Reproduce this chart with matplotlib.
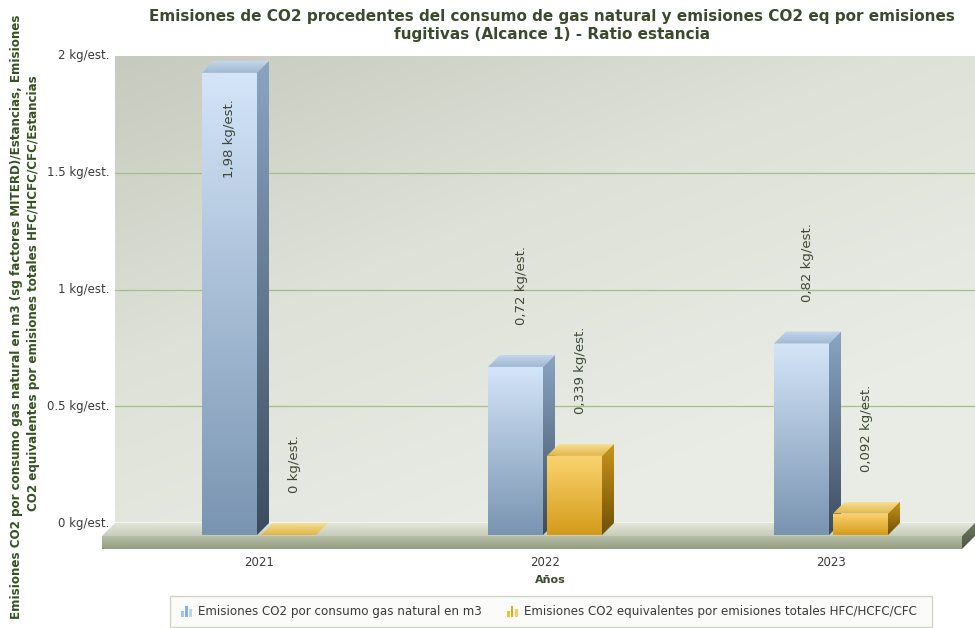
import matplotlib
matplotlib.use("Agg")
import matplotlib.pyplot as plt
from matplotlib.patches import Polygon, Rectangle
from matplotlib.colors import LinearSegmentedColormap
import numpy as np

years = ["2021", "2022", "2023"]
gas_natural = [1.98, 0.72, 0.82]
fugitivas = [0.0, 0.339, 0.092]
gas_labels = ["1,98 kg/est.", "0,72 kg/est.", "0,82 kg/est."]
fug_labels = ["0 kg/est.", "0,339 kg/est.", "0,092 kg/est."]
y_ticks = [0, 0.5, 1, 1.5, 2]
y_tick_labels = ["0 kg/est.", "0.5 kg/est.", "1 kg/est.", "1.5 kg/est.", "2 kg/est."]
series_names = ["Emisiones CO2 por consumo gas natural en m3",
                "Emisiones CO2 equivalentes por emisiones totales HFC/HCFC/CFC"]
title = ("Emisiones de CO2 procedentes del consumo de gas natural y emisiones CO2 eq por emisiones\n"
         "fugitivas (Alcance 1) - Ratio estancia")
ylabel_1 = "Emisiones CO2 por consumo gas natural en m3 (sg factores MITERD)/Estancias, Emisiones"
ylabel_2 = "CO2 equivalentes por emisiones totales HFC/HCFC/CFC/Estancias"

W, H = 975, 628
fig = plt.figure(figsize=(W / 100, H / 100), dpi=100)
fig.patch.set_facecolor("white")


def fx(x):
    return x / W


def fy(y):
    return 1 - y / H


# back wall of the plot, in pixels
L, R, T, B = 115, 975, 56, 523
ax = fig.add_axes([fx(L), fy(B), (R - L) / W, (B - T) / H])
ax.set_axis_off()
PX = 286.0              # pixels per category
PY = (B - T) / 2.0      # pixels per kg/est.
XMIN, XMAX = (L - 271) / PX, (R - 271) / PX


def px(n):
    return n / PX


def py(n):
    return n / PY


def grad_fill(verts, top, bottom, z):
    poly = Polygon(verts, closed=True, facecolor="none", edgecolor="none",
                   zorder=z, clip_on=False)
    ax.add_patch(poly)
    xs = [v[0] for v in verts]
    ys = [v[1] for v in verts]
    cmap = LinearSegmentedColormap.from_list("g", [bottom, top])
    grad = np.linspace(0, 1, 256).reshape(-1, 1)
    im = ax.imshow(grad, cmap=cmap, origin="lower", aspect="auto",
                   extent=(min(xs), max(xs), min(ys), max(ys)),
                   interpolation="bilinear", zorder=z)
    im.set_clip_box(fig.bbox)
    im.set_clip_path(poly)


# wall gradient, darker in the upper left corner
gx, gy = np.meshgrid(np.linspace(0, 1, 200), np.linspace(0, 1, 200))
wall = np.clip(0.55 * gx + 0.75 * gy, 0, 1)
wall_cmap = LinearSegmentedColormap.from_list("wall", ["#c7cabe", "#dde1d7", "#e9ece5"])
ax.imshow(wall, cmap=wall_cmap, origin="upper", aspect="auto",
          extent=(0, 1, 0, 1), transform=ax.transAxes, zorder=0)

for t in y_ticks[1:-1]:
    ax.axhline(t, color="#a3bf88", lw=0.9, zorder=1)

# floor slab
fdx, fdy, fh = px(13), py(13), py(13)
grad_fill([(XMIN, 0), (XMAX, 0), (XMAX - fdx, -fdy), (XMIN - fdx, -fdy)],
          "#e2e6da", "#c6ccb9", 2)
grad_fill([(XMIN - fdx, -fdy), (XMAX - fdx, -fdy), (XMAX - fdx, -fdy - fh), (XMIN - fdx, -fdy - fh)],
          "#b7bea7", "#929b80", 2)
grad_fill([(XMAX - fdx, -fdy), (XMAX, 0), (XMAX, -fh), (XMAX - fdx, -fdy - fh)],
          "#6f7763", "#4f5645", 2)
ax.plot([XMIN, XMAX], [0, 0], color="#f6f8f2", lw=1.2, zorder=2, solid_capstyle="butt")

BLUE = dict(front=("#d4e5f9", "#7994b1"), side=("#8aa5c3", "#3c4c5e"), top=("#c3d6ec", "#9fb8d3"))
GOLD = dict(front=("#fbd470", "#d49b1a"), side=("#c9961c", "#6f5006"), top=("#f6df98", "#e0b545"))

BW = px(55)
GAP = px(4)
DX, DY = px(12), py(12)


def bar3d(x0, v, style, z):
    x1 = x0 + BW
    if v > 0:
        grad_fill([(x0 - DX, -DY), (x1 - DX, -DY), (x1 - DX, v - DY), (x0 - DX, v - DY)],
                  style["front"][0], style["front"][1], z)
        grad_fill([(x1 - DX, -DY), (x1, 0), (x1, v), (x1 - DX, v - DY)],
                  style["side"][0], style["side"][1], z)
    grad_fill([(x0 - DX, v - DY), (x1 - DX, v - DY), (x1, v), (x0, v)],
              style["top"][0], style["top"][1], z)


def value_label(x0, v, text):
    xc = x0 + BW / 2
    if v + py(30) + py(85) > 2:
        ax.text(xc - DX, v - py(38), text, rotation=90, ha="center", va="top",
                fontsize=9.5, color="#3d4934", zorder=10)
    else:
        ax.text(xc - px(6), v + py(30), text, rotation=90, ha="center", va="bottom",
                fontsize=9.5, color="#3d4934", zorder=10)


for i, year in enumerate(years):
    xb = i - GAP / 2 - BW
    xg = i + GAP / 2
    bar3d(xb, gas_natural[i], BLUE, 3 + 2 * i)
    bar3d(xg, fugitivas[i], GOLD, 4 + 2 * i)
    value_label(xb, gas_natural[i], gas_labels[i])
    value_label(xg, fugitivas[i], fug_labels[i])
    ax.text(i - DX, -py(39), year, ha="center", va="center", fontsize=8.5, color="#3a3a3a")

for t, lab in zip(y_ticks, y_tick_labels):
    ax.text(-0.006, t, lab, transform=ax.get_yaxis_transform(), ha="right", va="center",
            fontsize=8.5, color="#3a3a3a")

ax.set_xlim(XMIN, XMAX)
ax.set_ylim(0, 2)

fig.text(fx(552), fy(26), title, ha="center", va="center", fontsize=11,
         fontweight="bold", color="#3b4a2c", linespacing=1.25)
fig.text(fx(550), fy(580), "Años", ha="center", va="center", fontsize=8,
         fontweight="bold", color="#3b4a2c")
fig.text(fx(17), fy(317), ylabel_1, rotation=90, ha="center", va="center", fontsize=8.6,
         fontweight="bold", color="#34521f")
fig.text(fx(34), fy(293), ylabel_2, rotation=90, ha="center", va="center", fontsize=8.6,
         fontweight="bold", color="#34521f")

# legend
fig.add_artist(Rectangle((fx(170), fy(627)), fx(932) - fx(170), fy(596) - fy(627),
                         transform=fig.transFigure, facecolor="#fbfbf9", edgecolor="#cfd5c6", lw=1))


def legend_icon(x, y, colors):
    for k, (dxp, hp) in enumerate([(0, 6), (4, 11), (8, 8)]):
        fig.add_artist(Rectangle((fx(x + dxp), fy(y)), fx(2.5), hp / H,
                                 transform=fig.transFigure, facecolor=colors[k], edgecolor="none"))


legend_icon(181, 617, ["#9fc6ee", "#7fb1e4", "#b7d5f3"])
fig.text(fx(198), fy(611), series_names[0], ha="left", va="center", fontsize=8.6, color="#3a3a3a")
legend_icon(507, 617, ["#f3c03a", "#e8a815", "#f5cd5c"])
fig.text(fx(524), fy(611), series_names[1], ha="left", va="center", fontsize=8.6, color="#3a3a3a")

fig.savefig("out.png", dpi=100)
